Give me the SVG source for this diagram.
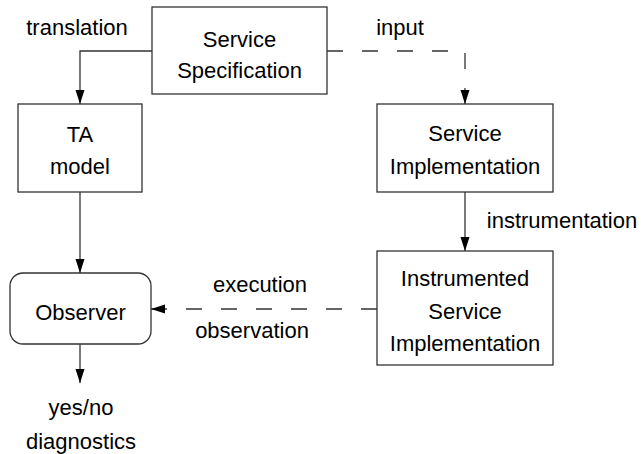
<svg xmlns="http://www.w3.org/2000/svg" width="641" height="454" viewBox="0 0 641 454">
<defs>
<style>
.box{fill:#fff;stroke:#333;stroke-width:1.3}
.ln{fill:none;stroke:#333;stroke-width:1.3}
.dash{stroke-dasharray:16 19}
text{font-family:"Liberation Sans",Arial,sans-serif;font-size:22px;fill:#000;text-anchor:middle}
</style>
<marker id="ah" markerWidth="14" markerHeight="10" refX="14" refY="5" orient="auto" markerUnits="userSpaceOnUse">
<path d="M0,0.5 L14,5 L0,9.5 Z" fill="#000"/>
</marker>
</defs>
<rect width="641" height="454" fill="#fff"/>
<g id="connectors">
<path class="ln" d="M152,51 H80 V104" marker-end="url(#ah)"/>
<path class="ln dash" d="M327,51 H465 V104" marker-end="url(#ah)"/>
<path class="ln" d="M80,192 V273" marker-end="url(#ah)"/>
<path class="ln" d="M465,192 V251" marker-end="url(#ah)"/>
<path class="ln dash" d="M377,309 H151" marker-end="url(#ah)"/>
<path class="ln" d="M80,344 V383" marker-end="url(#ah)"/>
<text x="77" y="35">translation</text>
<text x="400" y="35">input</text>
<text x="562" y="228">instrumentation</text>
<text x="260" y="292">execution</text>
<text x="252" y="338">observation</text>
<text x="81" y="415">yes/no</text>
<text x="81" y="449">diagnostics</text>
</g>
<g id="spec">
<rect class="box" x="152" y="7" width="175" height="87"/>
<text x="239.5" y="47">Service</text>
<text x="239.5" y="78">Specification</text>
</g>
<g id="ta">
<rect class="box" x="18" y="104" width="124" height="88"/>
<text x="80" y="142">TA</text>
<text x="80" y="174">model</text>
</g>
<g id="impl">
<rect class="box" x="377" y="104" width="176" height="88"/>
<text x="465" y="141">Service</text>
<text x="465" y="174">Implementation</text>
</g>
<g id="instr">
<rect class="box" x="377" y="251" width="176" height="114"/>
<text x="465" y="286">Instrumented</text>
<text x="465" y="319">Service</text>
<text x="465" y="351">Implementation</text>
</g>
<g id="observer">
<rect class="box" x="10" y="273" width="141" height="71" rx="13"/>
<text x="80.5" y="320">Observer</text>
</g>
</svg>
